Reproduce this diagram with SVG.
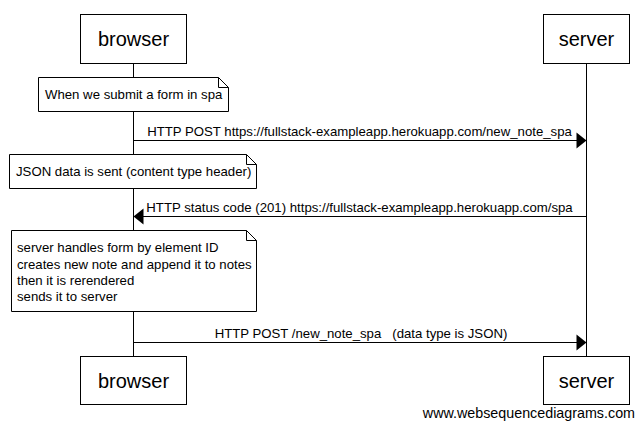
<svg xmlns="http://www.w3.org/2000/svg" width="644" height="429" viewBox="0 0 644 429">
  <style>
    .actor rect { fill: #ffffff; stroke: #000000; stroke-width: 1; }
    .actor text { font-family: "Liberation Sans", Arial, sans-serif; font-size: 20px; fill: #000000; text-anchor: middle; }
    .lifeline { stroke: #000000; stroke-width: 1; }
    .note path { fill: #ffffff; stroke: #000000; stroke-width: 1; }
    .note text { font-family: "Liberation Sans", Arial, sans-serif; font-size: 13.2px; fill: #000000; }
    .msg line { stroke: #000000; stroke-width: 1; }
    .msg polygon { fill: #000000; stroke: none; }
    .msg text { font-family: "Liberation Sans", Arial, sans-serif; font-size: 13.2px; fill: #000000; text-anchor: middle; }
    .credit { font-family: "Liberation Sans", Arial, sans-serif; font-size: 14.3px; fill: #000000; }
  </style>

  <rect x="0" y="0" width="644" height="429" fill="#ffffff"/>

  <!-- lifelines -->
  <g id="lifelines">
    <line class="lifeline" x1="133.5" y1="63" x2="133.5" y2="356"/>
    <line class="lifeline" x1="586.5" y1="63" x2="586.5" y2="356"/>
  </g>

  <!-- participants, top -->
  <g id="browser-top" class="actor">
    <rect x="80.5" y="14.5" width="106" height="49"/>
    <text x="133.5" y="46">browser</text>
  </g>
  <g id="server-top" class="actor">
    <rect x="543.5" y="14.5" width="86" height="49"/>
    <text x="586.5" y="46">server</text>
  </g>

  <!-- notes over browser -->
  <g id="note-submit" class="note">
    <path d="M38.5,77.5 H218.5 L228.5,87.5 V111.5 H38.5 Z M218.5,77.5 V87.5 H228.5"/>
    <text x="45" y="99">When we submit a form in spa</text>
  </g>
  <g id="note-json" class="note">
    <path d="M9.5,154.5 H246.5 L256.5,164.5 V188.5 H9.5 Z M246.5,154.5 V164.5 H256.5"/>
    <text x="16" y="176">JSON data is sent (content type header)</text>
  </g>
  <g id="note-handler" class="note">
    <path d="M11.5,230.5 H246.5 L256.5,240.5 V311.5 H11.5 Z M246.5,230.5 V240.5 H256.5"/>
    <text x="17" y="252">server handles form by element ID</text>
    <text x="17" y="269">creates new note and append it to notes</text>
    <text x="17" y="285">then it is rerendered</text>
    <text x="17" y="301">sends it to server</text>
  </g>

  <!-- messages -->
  <g id="connectors">
    <g id="msg-post-spa" class="msg">
      <line x1="133.5" y1="140.5" x2="578" y2="140.5"/>
      <polygon points="586.5,140.5 576.5,132.5 576.5,148.5"/>
      <text x="359.5" y="136">HTTP POST https://fullstack-exampleapp.herokuapp.com/new_note_spa</text>
    </g>
    <g id="msg-status" class="msg">
      <line x1="586.5" y1="216.5" x2="142" y2="216.5"/>
      <polygon points="133.5,216.5 143.5,208.5 143.5,224.5"/>
      <text x="359.5" y="212">HTTP status code (201) https://fullstack-exampleapp.herokuapp.com/spa</text>
    </g>
    <g id="msg-post-json" class="msg">
      <line x1="133.5" y1="342.5" x2="578" y2="342.5"/>
      <polygon points="586.5,342.5 576.5,334.5 576.5,350.5"/>
      <text x="361" y="338" xml:space="preserve">HTTP POST /new_note_spa   (data type is JSON)</text>
    </g>
  </g>

  <!-- participants, bottom -->
  <g id="browser-bottom" class="actor">
    <rect x="80.5" y="356.5" width="106" height="48"/>
    <text x="133.5" y="388">browser</text>
  </g>
  <g id="server-bottom" class="actor">
    <rect x="543.5" y="356.5" width="86" height="48"/>
    <text x="586.5" y="388">server</text>
  </g>

  <text class="credit" x="635" y="418" text-anchor="end">www.websequencediagrams.com</text>
</svg>
